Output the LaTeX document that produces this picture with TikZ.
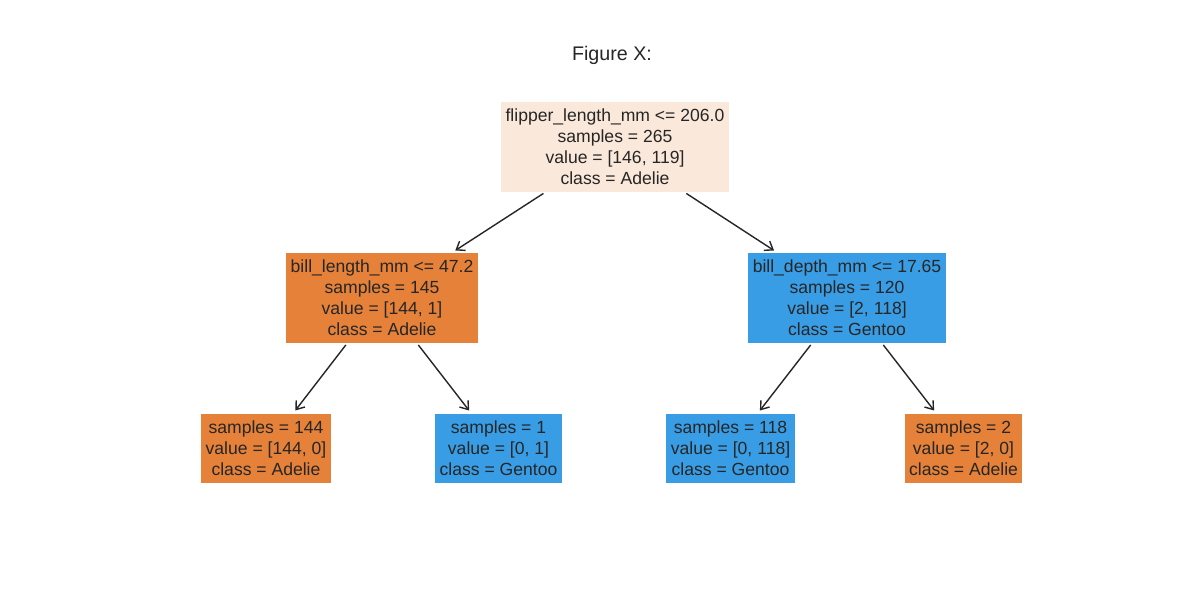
\documentclass[tikz,border=0pt]{standalone}
\usepackage{fontspec}
\setmainfont{Liberation Sans}
\usetikzlibrary{arrows.meta}

\definecolor{adelie}{HTML}{E58139}
\definecolor{gentoo}{HTML}{399DE5}
\definecolor{mixfill}{HTML}{FAE8DA}
\definecolor{inkgray}{HTML}{262626}

\begin{document}
\begin{tikzpicture}[x=0.02cm, y=-0.02cm,
    treenode/.style={rectangle, align=center, text=inkgray,
        font=\fontsize{10}{11.95}\selectfont,
        inner xsep=0.9mm, inner ysep=0pt, minimum height=18mm},
    leafnode/.style={treenode, minimum height=13.8mm},
    edge/.style={draw=inkgray, line width=0.8pt,
        -{Straight Barb[length=1.5mm,width=2.2mm]},
        shorten <=0.4mm, shorten >=0.8mm}]

    % Fix the page size
    \useasboundingbox (0,0) rectangle (1200,600);

    % Title
    \node[text=inkgray, font=\fontsize{11.2}{13}\selectfont] (title) at (612,55) {Figure X:};

    % Define the root split
    \node[treenode, fill=mixfill] (root) at (615,147)
        {flipper\_length\_mm <= 206.0\\samples = 265\\value = [146, 119]\\class = Adelie};

    % Define the second level splits
    \node[treenode, fill=adelie] (billlen) at (382,298)
        {bill\_length\_mm <= 47.2\\samples = 145\\value = [144, 1]\\class = Adelie};
    \node[treenode, fill=gentoo] (billdep) at (847,298)
        {bill\_depth\_mm <= 17.65\\samples = 120\\value = [2, 118]\\class = Gentoo};

    % Define the leaves
    \node[leafnode, fill=adelie] (leafa) at (266,448.5)
        {samples = 144\\value = [144, 0]\\class = Adelie};
    \node[leafnode, fill=gentoo] (leafb) at (498.5,448.5)
        {samples = 1\\value = [0, 1]\\class = Gentoo};
    \node[leafnode, fill=gentoo] (leafc) at (730.5,448.5)
        {samples = 118\\value = [0, 118]\\class = Gentoo};
    \node[leafnode, fill=adelie] (leafd) at (963.5,448.5)
        {samples = 2\\value = [2, 0]\\class = Adelie};

    % Draw the arrows
    \draw[edge] (root) -- (billlen);
    \draw[edge] (root) -- (billdep);
    \draw[edge] (billlen) -- (leafa);
    \draw[edge] (billlen) -- (leafb);
    \draw[edge] (billdep) -- (leafc);
    \draw[edge] (billdep) -- (leafd);

\end{tikzpicture}
\end{document}
